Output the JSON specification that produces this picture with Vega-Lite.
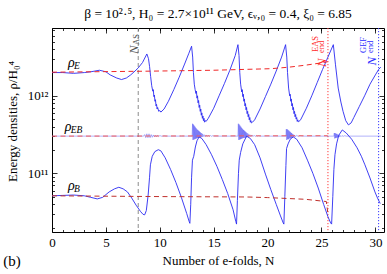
{
"$schema":"https://vega.github.io/schema/vega-lite/v6.json",
"width":332,"height":204,
"autosize":"none",
"padding":{"left":52,"top":28,"right":3,"bottom":42},
"title":{"text":"β = 10²·⁵,  H₀ = 2.7×10¹¹ GeV,  ϵᵥ,₀ = 0.4,  ξ₀ = 6.85","font":"Liberation Serif","fontSize":13.5,"fontWeight":"normal","color":"black","offset":7,"anchor":"middle"},
"datasets":{
"curves":[
{"N":0,"v":1.995e12,"s":"E","m":"GEF"},{"N":1,"v":1.995e12,"s":"E","m":"GEF"},{"N":2,"v":1.950e12,"s":"E","m":"GEF"},{"N":3,"v":1.995e12,"s":"E","m":"GEF"},{"N":3.6,"v":2.042e12,"s":"E","m":"GEF"},{"N":4.4,"v":2.138e12,"s":"E","m":"GEF"},{"N":5.0,"v":2.042e12,"s":"E","m":"GEF"},{"N":5.4,"v":1.862e12,"s":"E","m":"GEF"},{"N":6.0,"v":1.698e12,"s":"E","m":"GEF"},{"N":6.45,"v":1.622e12,"s":"E","m":"GEF"},{"N":6.9,"v":1.698e12,"s":"E","m":"GEF"},{"N":7.3,"v":1.862e12,"s":"E","m":"GEF"},{"N":7.7,"v":2.089e12,"s":"E","m":"GEF"},{"N":8.0,"v":2.291e12,"s":"E","m":"GEF"},{"N":8.4,"v":2.692e12,"s":"E","m":"GEF"},{"N":8.8,"v":3.467e12,"s":"E","m":"GEF"},{"N":8.95,"v":3.020e12,"s":"E","m":"GEF"},{"N":9.05,"v":2.399e12,"s":"E","m":"GEF"},{"N":9.15,"v":1.778e12,"s":"E","m":"GEF"},{"N":9.25,"v":1.349e12,"s":"E","m":"GEF"},{"N":9.35,"v":1.148e12,"s":"E","m":"GEF"},{"N":9.4,"v":1.202e12,"s":"E","m":"GEF"},{"N":9.45,"v":9.772e11,"s":"E","m":"GEF"},{"N":9.5,"v":1.023e12,"s":"E","m":"GEF"},{"N":9.55,"v":8.511e11,"s":"E","m":"GEF"},{"N":9.6,"v":8.913e11,"s":"E","m":"GEF"},{"N":9.65,"v":7.413e11,"s":"E","m":"GEF"},{"N":9.7,"v":7.762e11,"s":"E","m":"GEF"},{"N":9.75,"v":6.761e11,"s":"E","m":"GEF"},{"N":9.8,"v":7.079e11,"s":"E","m":"GEF"},{"N":9.9,"v":6.310e11,"s":"E","m":"GEF"},{"N":10.0,"v":6.457e11,"s":"E","m":"GEF"},{"N":10.1,"v":6.166e11,"s":"E","m":"GEF"},{"N":10.4,"v":6.761e11,"s":"E","m":"GEF"},{"N":10.8,"v":8.511e11,"s":"E","m":"GEF"},{"N":11.3,"v":1.202e12,"s":"E","m":"GEF"},{"N":11.8,"v":1.738e12,"s":"E","m":"GEF"},{"N":12.3,"v":2.570e12,"s":"E","m":"GEF"},{"N":12.7,"v":3.548e12,"s":"E","m":"GEF"},{"N":12.95,"v":4.365e12,"s":"E","m":"GEF"},{"N":13.05,"v":3.162e12,"s":"E","m":"GEF"},{"N":13.12,"v":1.995e12,"s":"E","m":"GEF"},{"N":13.2,"v":1.413e12,"s":"E","m":"GEF"},{"N":13.28,"v":1.202e12,"s":"E","m":"GEF"},{"N":13.35,"v":1.072e12,"s":"E","m":"GEF"},{"N":13.4,"v":1.148e12,"s":"E","m":"GEF"},{"N":13.45,"v":9.333e11,"s":"E","m":"GEF"},{"N":13.5,"v":1.000e12,"s":"E","m":"GEF"},{"N":13.55,"v":8.128e11,"s":"E","m":"GEF"},{"N":13.6,"v":8.710e11,"s":"E","m":"GEF"},{"N":13.65,"v":7.079e11,"s":"E","m":"GEF"},{"N":13.7,"v":7.586e11,"s":"E","m":"GEF"},{"N":13.75,"v":6.310e11,"s":"E","m":"GEF"},{"N":13.8,"v":6.761e11,"s":"E","m":"GEF"},{"N":13.85,"v":5.623e11,"s":"E","m":"GEF"},{"N":13.9,"v":6.026e11,"s":"E","m":"GEF"},{"N":13.95,"v":5.129e11,"s":"E","m":"GEF"},{"N":14.0,"v":5.495e11,"s":"E","m":"GEF"},{"N":14.05,"v":4.786e11,"s":"E","m":"GEF"},{"N":14.1,"v":5.129e11,"s":"E","m":"GEF"},{"N":14.15,"v":4.571e11,"s":"E","m":"GEF"},{"N":14.2,"v":4.786e11,"s":"E","m":"GEF"},{"N":14.3,"v":4.677e11,"s":"E","m":"GEF"},{"N":14.5,"v":5.129e11,"s":"E","m":"GEF"},{"N":15.0,"v":6.918e11,"s":"E","m":"GEF"},{"N":15.5,"v":1.000e12,"s":"E","m":"GEF"},{"N":16.0,"v":1.445e12,"s":"E","m":"GEF"},{"N":16.5,"v":2.138e12,"s":"E","m":"GEF"},{"N":17.0,"v":3.311e12,"s":"E","m":"GEF"},{"N":17.25,"v":4.571e12,"s":"E","m":"GEF"},{"N":17.35,"v":3.311e12,"s":"E","m":"GEF"},{"N":17.42,"v":1.995e12,"s":"E","m":"GEF"},{"N":17.5,"v":1.413e12,"s":"E","m":"GEF"},{"N":17.6,"v":1.122e12,"s":"E","m":"GEF"},{"N":17.65,"v":1.202e12,"s":"E","m":"GEF"},{"N":17.7,"v":9.772e11,"s":"E","m":"GEF"},{"N":17.75,"v":1.047e12,"s":"E","m":"GEF"},{"N":17.8,"v":8.511e11,"s":"E","m":"GEF"},{"N":17.85,"v":9.120e11,"s":"E","m":"GEF"},{"N":17.9,"v":7.413e11,"s":"E","m":"GEF"},{"N":17.95,"v":7.943e11,"s":"E","m":"GEF"},{"N":18.0,"v":6.607e11,"s":"E","m":"GEF"},{"N":18.05,"v":7.079e11,"s":"E","m":"GEF"},{"N":18.1,"v":5.888e11,"s":"E","m":"GEF"},{"N":18.15,"v":6.310e11,"s":"E","m":"GEF"},{"N":18.2,"v":5.370e11,"s":"E","m":"GEF"},{"N":18.25,"v":5.754e11,"s":"E","m":"GEF"},{"N":18.3,"v":4.898e11,"s":"E","m":"GEF"},{"N":18.35,"v":5.248e11,"s":"E","m":"GEF"},{"N":18.4,"v":4.571e11,"s":"E","m":"GEF"},{"N":18.45,"v":4.786e11,"s":"E","m":"GEF"},{"N":18.5,"v":4.467e11,"s":"E","m":"GEF"},{"N":18.6,"v":4.571e11,"s":"E","m":"GEF"},{"N":18.8,"v":4.898e11,"s":"E","m":"GEF"},{"N":19.3,"v":6.761e11,"s":"E","m":"GEF"},{"N":19.8,"v":9.772e11,"s":"E","m":"GEF"},{"N":20.3,"v":1.413e12,"s":"E","m":"GEF"},{"N":20.8,"v":2.089e12,"s":"E","m":"GEF"},{"N":21.3,"v":3.162e12,"s":"E","m":"GEF"},{"N":21.67,"v":4.571e12,"s":"E","m":"GEF"},{"N":21.78,"v":3.162e12,"s":"E","m":"GEF"},{"N":21.85,"v":1.995e12,"s":"E","m":"GEF"},{"N":21.95,"v":1.259e12,"s":"E","m":"GEF"},{"N":22.05,"v":1.000e12,"s":"E","m":"GEF"},{"N":22.1,"v":1.047e12,"s":"E","m":"GEF"},{"N":22.15,"v":8.511e11,"s":"E","m":"GEF"},{"N":22.2,"v":9.120e11,"s":"E","m":"GEF"},{"N":22.25,"v":7.413e11,"s":"E","m":"GEF"},{"N":22.3,"v":7.943e11,"s":"E","m":"GEF"},{"N":22.35,"v":6.607e11,"s":"E","m":"GEF"},{"N":22.4,"v":7.079e11,"s":"E","m":"GEF"},{"N":22.45,"v":5.888e11,"s":"E","m":"GEF"},{"N":22.5,"v":6.310e11,"s":"E","m":"GEF"},{"N":22.55,"v":5.370e11,"s":"E","m":"GEF"},{"N":22.6,"v":5.754e11,"s":"E","m":"GEF"},{"N":22.65,"v":5.012e11,"s":"E","m":"GEF"},{"N":22.7,"v":5.248e11,"s":"E","m":"GEF"},{"N":22.75,"v":4.677e11,"s":"E","m":"GEF"},{"N":22.8,"v":4.898e11,"s":"E","m":"GEF"},{"N":22.85,"v":4.624e11,"s":"E","m":"GEF"},{"N":23.0,"v":4.786e11,"s":"E","m":"GEF"},{"N":23.1,"v":5.012e11,"s":"E","m":"GEF"},{"N":23.6,"v":6.918e11,"s":"E","m":"GEF"},{"N":24.1,"v":1.000e12,"s":"E","m":"GEF"},{"N":24.6,"v":1.479e12,"s":"E","m":"GEF"},{"N":25.1,"v":2.188e12,"s":"E","m":"GEF"},{"N":25.6,"v":3.162e12,"s":"E","m":"GEF"},{"N":26.1,"v":4.571e12,"s":"E","m":"GEF"},{"N":26.3,"v":2.512e12,"s":"E","m":"GEF"},{"N":26.55,"v":1.259e12,"s":"E","m":"GEF"},{"N":26.8,"v":8.318e11,"s":"E","m":"GEF"},{"N":27.0,"v":6.310e11,"s":"E","m":"GEF"},{"N":27.25,"v":4.786e11,"s":"E","m":"GEF"},{"N":27.5,"v":4.217e11,"s":"E","m":"GEF"},{"N":27.75,"v":4.467e11,"s":"E","m":"GEF"},{"N":28.0,"v":5.248e11,"s":"E","m":"GEF"},{"N":28.5,"v":7.244e11,"s":"E","m":"GEF"},{"N":29.0,"v":1.000e12,"s":"E","m":"GEF"},{"N":29.5,"v":1.413e12,"s":"E","m":"GEF"},{"N":30.0,"v":1.862e12,"s":"E","m":"GEF"},{"N":30.3,"v":2.188e12,"s":"E","m":"GEF"},{"N":30.5,"v":2.344e12,"s":"E","m":"GEF"},
{"N":0,"v":3.020e11,"s":"EB","m":"GEF"},{"N":4,"v":3.020e11,"s":"EB","m":"GEF"},{"N":8.5,"v":3.020e11,"s":"EB","m":"GEF"},{"N":8.6,"v":3.162e11,"s":"EB","m":"GEF"},{"N":8.7,"v":2.884e11,"s":"EB","m":"GEF"},{"N":8.8,"v":3.236e11,"s":"EB","m":"GEF"},{"N":8.9,"v":2.884e11,"s":"EB","m":"GEF"},{"N":9.0,"v":3.236e11,"s":"EB","m":"GEF"},{"N":9.1,"v":2.884e11,"s":"EB","m":"GEF"},{"N":9.2,"v":3.162e11,"s":"EB","m":"GEF"},{"N":9.3,"v":2.917e11,"s":"EB","m":"GEF"},{"N":9.4,"v":3.126e11,"s":"EB","m":"GEF"},{"N":9.5,"v":2.951e11,"s":"EB","m":"GEF"},{"N":9.6,"v":3.090e11,"s":"EB","m":"GEF"},{"N":9.7,"v":2.951e11,"s":"EB","m":"GEF"},{"N":9.8,"v":3.090e11,"s":"EB","m":"GEF"},{"N":9.9,"v":2.985e11,"s":"EB","m":"GEF"},{"N":10.0,"v":3.069e11,"s":"EB","m":"GEF"},{"N":10.2,"v":3.006e11,"s":"EB","m":"GEF"},{"N":10.4,"v":3.048e11,"s":"EB","m":"GEF"},{"N":10.6,"v":3.020e11,"s":"EB","m":"GEF"},{"N":13.0,"v":3.020e11,"s":"EB","m":"GEF"},
{"N":13.04,"v":4.365e11,"s":"EB","m":"GEF"},{"N":13.08,"v":2.692e11,"s":"EB","m":"GEF"},{"N":13.12,"v":4.266e11,"s":"EB","m":"GEF"},{"N":13.16,"v":2.723e11,"s":"EB","m":"GEF"},{"N":13.2,"v":4.121e11,"s":"EB","m":"GEF"},{"N":13.24,"v":2.754e11,"s":"EB","m":"GEF"},{"N":13.28,"v":3.981e11,"s":"EB","m":"GEF"},{"N":13.32,"v":2.786e11,"s":"EB","m":"GEF"},{"N":13.36,"v":3.846e11,"s":"EB","m":"GEF"},{"N":13.4,"v":2.818e11,"s":"EB","m":"GEF"},{"N":13.44,"v":3.715e11,"s":"EB","m":"GEF"},{"N":13.48,"v":2.851e11,"s":"EB","m":"GEF"},{"N":13.52,"v":3.631e11,"s":"EB","m":"GEF"},{"N":13.56,"v":2.851e11,"s":"EB","m":"GEF"},{"N":13.6,"v":3.548e11,"s":"EB","m":"GEF"},{"N":13.64,"v":2.884e11,"s":"EB","m":"GEF"},{"N":13.68,"v":3.467e11,"s":"EB","m":"GEF"},{"N":13.72,"v":2.884e11,"s":"EB","m":"GEF"},{"N":13.76,"v":3.388e11,"s":"EB","m":"GEF"},{"N":13.8,"v":2.917e11,"s":"EB","m":"GEF"},{"N":13.85,"v":3.311e11,"s":"EB","m":"GEF"},{"N":13.9,"v":2.951e11,"s":"EB","m":"GEF"},{"N":13.95,"v":3.236e11,"s":"EB","m":"GEF"},{"N":14.0,"v":2.951e11,"s":"EB","m":"GEF"},{"N":14.1,"v":3.162e11,"s":"EB","m":"GEF"},{"N":14.2,"v":2.965e11,"s":"EB","m":"GEF"},{"N":14.3,"v":3.126e11,"s":"EB","m":"GEF"},{"N":14.4,"v":2.985e11,"s":"EB","m":"GEF"},{"N":14.5,"v":3.090e11,"s":"EB","m":"GEF"},{"N":14.6,"v":2.992e11,"s":"EB","m":"GEF"},{"N":14.7,"v":3.069e11,"s":"EB","m":"GEF"},{"N":14.8,"v":3.006e11,"s":"EB","m":"GEF"},{"N":14.9,"v":3.055e11,"s":"EB","m":"GEF"},{"N":15.05,"v":3.020e11,"s":"EB","m":"GEF"},{"N":17.25,"v":3.020e11,"s":"EB","m":"GEF"},
{"N":17.29,"v":4.365e11,"s":"EB","m":"GEF"},{"N":17.33,"v":2.692e11,"s":"EB","m":"GEF"},{"N":17.37,"v":4.266e11,"s":"EB","m":"GEF"},{"N":17.41,"v":2.723e11,"s":"EB","m":"GEF"},{"N":17.45,"v":4.121e11,"s":"EB","m":"GEF"},{"N":17.49,"v":2.754e11,"s":"EB","m":"GEF"},{"N":17.53,"v":3.981e11,"s":"EB","m":"GEF"},{"N":17.57,"v":2.786e11,"s":"EB","m":"GEF"},{"N":17.61,"v":3.846e11,"s":"EB","m":"GEF"},{"N":17.65,"v":2.818e11,"s":"EB","m":"GEF"},{"N":17.69,"v":3.715e11,"s":"EB","m":"GEF"},{"N":17.73,"v":2.851e11,"s":"EB","m":"GEF"},{"N":17.77,"v":3.631e11,"s":"EB","m":"GEF"},{"N":17.81,"v":2.851e11,"s":"EB","m":"GEF"},{"N":17.85,"v":3.548e11,"s":"EB","m":"GEF"},{"N":17.89,"v":2.884e11,"s":"EB","m":"GEF"},{"N":17.93,"v":3.467e11,"s":"EB","m":"GEF"},{"N":17.97,"v":2.884e11,"s":"EB","m":"GEF"},{"N":18.01,"v":3.388e11,"s":"EB","m":"GEF"},{"N":18.05,"v":2.917e11,"s":"EB","m":"GEF"},{"N":18.1,"v":3.311e11,"s":"EB","m":"GEF"},{"N":18.15,"v":2.951e11,"s":"EB","m":"GEF"},{"N":18.2,"v":3.236e11,"s":"EB","m":"GEF"},{"N":18.25,"v":2.951e11,"s":"EB","m":"GEF"},{"N":18.35,"v":3.162e11,"s":"EB","m":"GEF"},{"N":18.45,"v":2.965e11,"s":"EB","m":"GEF"},{"N":18.55,"v":3.126e11,"s":"EB","m":"GEF"},{"N":18.65,"v":2.985e11,"s":"EB","m":"GEF"},{"N":18.75,"v":3.090e11,"s":"EB","m":"GEF"},{"N":18.85,"v":2.992e11,"s":"EB","m":"GEF"},{"N":18.95,"v":3.069e11,"s":"EB","m":"GEF"},{"N":19.05,"v":3.006e11,"s":"EB","m":"GEF"},{"N":19.15,"v":3.055e11,"s":"EB","m":"GEF"},{"N":19.3,"v":3.020e11,"s":"EB","m":"GEF"},{"N":21.7,"v":3.020e11,"s":"EB","m":"GEF"},
{"N":21.74,"v":3.715e11,"s":"EB","m":"GEF"},{"N":21.78,"v":2.692e11,"s":"EB","m":"GEF"},{"N":21.82,"v":3.715e11,"s":"EB","m":"GEF"},{"N":21.86,"v":2.754e11,"s":"EB","m":"GEF"},{"N":21.9,"v":3.631e11,"s":"EB","m":"GEF"},{"N":21.94,"v":2.754e11,"s":"EB","m":"GEF"},{"N":21.98,"v":3.548e11,"s":"EB","m":"GEF"},{"N":22.02,"v":2.818e11,"s":"EB","m":"GEF"},{"N":22.06,"v":3.467e11,"s":"EB","m":"GEF"},{"N":22.1,"v":2.818e11,"s":"EB","m":"GEF"},{"N":22.14,"v":3.388e11,"s":"EB","m":"GEF"},{"N":22.18,"v":2.851e11,"s":"EB","m":"GEF"},{"N":22.22,"v":3.311e11,"s":"EB","m":"GEF"},{"N":22.26,"v":2.884e11,"s":"EB","m":"GEF"},{"N":22.3,"v":3.236e11,"s":"EB","m":"GEF"},{"N":22.35,"v":2.917e11,"s":"EB","m":"GEF"},{"N":22.4,"v":3.162e11,"s":"EB","m":"GEF"},{"N":22.45,"v":2.951e11,"s":"EB","m":"GEF"},{"N":22.5,"v":3.126e11,"s":"EB","m":"GEF"},{"N":22.6,"v":2.965e11,"s":"EB","m":"GEF"},{"N":22.7,"v":3.090e11,"s":"EB","m":"GEF"},{"N":22.85,"v":2.985e11,"s":"EB","m":"GEF"},{"N":23.0,"v":3.055e11,"s":"EB","m":"GEF"},{"N":23.2,"v":3.020e11,"s":"EB","m":"GEF"},{"N":26.15,"v":3.020e11,"s":"EB","m":"GEF"},
{"N":26.19,"v":3.311e11,"s":"EB","m":"GEF"},{"N":26.23,"v":2.818e11,"s":"EB","m":"GEF"},{"N":26.27,"v":3.311e11,"s":"EB","m":"GEF"},{"N":26.31,"v":2.851e11,"s":"EB","m":"GEF"},{"N":26.35,"v":3.236e11,"s":"EB","m":"GEF"},{"N":26.39,"v":2.884e11,"s":"EB","m":"GEF"},{"N":26.43,"v":3.236e11,"s":"EB","m":"GEF"},{"N":26.47,"v":2.884e11,"s":"EB","m":"GEF"},{"N":26.51,"v":3.162e11,"s":"EB","m":"GEF"},{"N":26.55,"v":2.917e11,"s":"EB","m":"GEF"},{"N":26.6,"v":3.141e11,"s":"EB","m":"GEF"},{"N":26.65,"v":2.951e11,"s":"EB","m":"GEF"},{"N":26.7,"v":3.112e11,"s":"EB","m":"GEF"},{"N":26.8,"v":2.972e11,"s":"EB","m":"GEF"},{"N":26.9,"v":3.076e11,"s":"EB","m":"GEF"},{"N":27.0,"v":2.992e11,"s":"EB","m":"GEF"},{"N":27.15,"v":3.055e11,"s":"EB","m":"GEF"},{"N":27.3,"v":3.020e11,"s":"EB","m":"GEF"},{"N":30.5,"v":3.020e11,"s":"EB","m":"GEF"},
{"N":0,"v":5.129e10,"s":"B","m":"GEF"},{"N":1,"v":5.19e10,"s":"B","m":"GEF"},{"N":2,"v":5.248e10,"s":"B","m":"GEF"},{"N":3,"v":5.129e10,"s":"B","m":"GEF"},{"N":3.6,"v":4.898e10,"s":"B","m":"GEF"},{"N":4.2,"v":4.677e10,"s":"B","m":"GEF"},{"N":4.7,"v":4.898e10,"s":"B","m":"GEF"},{"N":5.3,"v":5.754e10,"s":"B","m":"GEF"},{"N":5.8,"v":6.310e10,"s":"B","m":"GEF"},{"N":6.2,"v":6.607e10,"s":"B","m":"GEF"},{"N":6.6,"v":6.310e10,"s":"B","m":"GEF"},{"N":7.0,"v":5.754e10,"s":"B","m":"GEF"},{"N":7.4,"v":4.786e10,"s":"B","m":"GEF"},{"N":7.8,"v":3.890e10,"s":"B","m":"GEF"},{"N":8.2,"v":3.236e10,"s":"B","m":"GEF"},{"N":8.45,"v":2.951e10,"s":"B","m":"GEF"},{"N":8.6,"v":2.917e10,"s":"B","m":"GEF"},{"N":8.75,"v":3.311e10,"s":"B","m":"GEF"},{"N":8.92,"v":5.248e10,"s":"B","m":"GEF"},{"N":9.05,"v":8.913e10,"s":"B","m":"GEF"},{"N":9.13,"v":1.288e11,"s":"B","m":"GEF"},{"N":9.3,"v":1.660e11,"s":"B","m":"GEF"},{"N":9.54,"v":1.905e11,"s":"B","m":"GEF"},{"N":9.86,"v":2.018e11,"s":"B","m":"GEF"},{"N":10.1,"v":1.950e11,"s":"B","m":"GEF"},{"N":10.5,"v":1.585e11,"s":"B","m":"GEF"},{"N":11.0,"v":1.122e11,"s":"B","m":"GEF"},{"N":11.5,"v":7.586e10,"s":"B","m":"GEF"},{"N":12.0,"v":4.898e10,"s":"B","m":"GEF"},{"N":12.5,"v":3.020e10,"s":"B","m":"GEF"},{"N":12.72,"v":2.399e10,"s":"B","m":"GEF"},{"N":12.79,"v":2.265e10,"s":"B","m":"GEF"},{"N":12.87,"v":3.981e10,"s":"B","m":"GEF"},{"N":12.95,"v":8.913e10,"s":"B","m":"GEF"},{"N":13.03,"v":1.479e11,"s":"B","m":"GEF"},{"N":13.15,"v":1.660e11,"s":"B","m":"GEF"},{"N":13.3,"v":2.188e11,"s":"B","m":"GEF"},{"N":13.45,"v":2.630e11,"s":"B","m":"GEF"},{"N":13.65,"v":2.951e11,"s":"B","m":"GEF"},{"N":13.9,"v":2.818e11,"s":"B","m":"GEF"},{"N":14.3,"v":2.344e11,"s":"B","m":"GEF"},{"N":14.8,"v":1.738e11,"s":"B","m":"GEF"},{"N":15.3,"v":1.230e11,"s":"B","m":"GEF"},{"N":15.8,"v":8.318e10,"s":"B","m":"GEF"},{"N":16.3,"v":5.495e10,"s":"B","m":"GEF"},{"N":16.8,"v":3.388e10,"s":"B","m":"GEF"},{"N":17.05,"v":2.399e10,"s":"B","m":"GEF"},{"N":17.12,"v":2.213e10,"s":"B","m":"GEF"},{"N":17.2,"v":4.467e10,"s":"B","m":"GEF"},{"N":17.3,"v":1.000e11,"s":"B","m":"GEF"},{"N":17.37,"v":1.479e11,"s":"B","m":"GEF"},{"N":17.5,"v":1.862e11,"s":"B","m":"GEF"},{"N":17.7,"v":2.399e11,"s":"B","m":"GEF"},{"N":18.05,"v":3.020e11,"s":"B","m":"GEF"},{"N":18.4,"v":2.818e11,"s":"B","m":"GEF"},{"N":18.8,"v":2.344e11,"s":"B","m":"GEF"},{"N":19.3,"v":1.585e11,"s":"B","m":"GEF"},{"N":19.8,"v":9.772e10,"s":"B","m":"GEF"},{"N":20.3,"v":6.166e10,"s":"B","m":"GEF"},{"N":20.8,"v":3.981e10,"s":"B","m":"GEF"},{"N":21.2,"v":2.818e10,"s":"B","m":"GEF"},{"N":21.45,"v":2.291e10,"s":"B","m":"GEF"},{"N":21.51,"v":2.213e10,"s":"B","m":"GEF"},{"N":21.6,"v":5.012e10,"s":"B","m":"GEF"},{"N":21.7,"v":1.259e11,"s":"B","m":"GEF"},{"N":21.76,"v":2.089e11,"s":"B","m":"GEF"},{"N":21.9,"v":2.399e11,"s":"B","m":"GEF"},{"N":22.1,"v":2.754e11,"s":"B","m":"GEF"},{"N":22.38,"v":2.951e11,"s":"B","m":"GEF"},{"N":22.7,"v":2.754e11,"s":"B","m":"GEF"},{"N":23.2,"v":2.138e11,"s":"B","m":"GEF"},{"N":23.7,"v":1.479e11,"s":"B","m":"GEF"},{"N":24.2,"v":1.000e11,"s":"B","m":"GEF"},{"N":24.7,"v":6.457e10,"s":"B","m":"GEF"},{"N":25.2,"v":3.981e10,"s":"B","m":"GEF"},{"N":25.6,"v":2.754e10,"s":"B","m":"GEF"},{"N":25.85,"v":2.291e10,"s":"B","m":"GEF"},{"N":25.94,"v":2.213e10,"s":"B","m":"GEF"},{"N":26.05,"v":5.012e10,"s":"B","m":"GEF"},{"N":26.15,"v":1.122e11,"s":"B","m":"GEF"},{"N":26.25,"v":1.738e11,"s":"B","m":"GEF"},{"N":26.4,"v":2.399e11,"s":"B","m":"GEF"},{"N":26.6,"v":3.090e11,"s":"B","m":"GEF"},{"N":26.93,"v":3.631e11,"s":"B","m":"GEF"},{"N":27.3,"v":3.311e11,"s":"B","m":"GEF"},{"N":27.8,"v":2.754e11,"s":"B","m":"GEF"},{"N":28.3,"v":2.138e11,"s":"B","m":"GEF"},{"N":28.7,"v":1.660e11,"s":"B","m":"GEF"},{"N":29.03,"v":1.288e11,"s":"B","m":"GEF"},{"N":29.5,"v":8.710e10,"s":"B","m":"GEF"},{"N":29.96,"v":5.754e10,"s":"B","m":"GEF"},{"N":30.2,"v":4.786e10,"s":"B","m":"GEF"},{"N":30.45,"v":4.074e10,"s":"B","m":"GEF"},
{"N":0,"v":2.018e12,"s":"E","m":"EAS"},{"N":9,"v":2.080e12,"s":"E","m":"EAS"},{"N":15,"v":2.138e12,"s":"E","m":"EAS"},{"N":20.3,"v":2.239e12,"s":"E","m":"EAS"},{"N":22,"v":2.344e12,"s":"E","m":"EAS"},{"N":23.5,"v":2.483e12,"s":"E","m":"EAS"},{"N":25,"v":2.661e12,"s":"E","m":"EAS"},{"N":25.58,"v":2.754e12,"s":"E","m":"EAS"},
{"N":0,"v":3.020e11,"s":"EB","m":"EAS"},{"N":12,"v":3.034e11,"s":"EB","m":"EAS"},{"N":25.58,"v":3.055e11,"s":"EB","m":"EAS"},
{"N":0,"v":5.129e10,"s":"B","m":"EAS"},{"N":10,"v":5.012e10,"s":"B","m":"EAS"},{"N":18,"v":4.955e10,"s":"B","m":"EAS"},{"N":20,"v":4.864e10,"s":"B","m":"EAS"},{"N":23.5,"v":4.624e10,"s":"B","m":"EAS"},{"N":25.45,"v":4.325e10,"s":"B","m":"EAS"},{"N":25.58,"v":3.162e10,"s":"B","m":"EAS"}
],
"rules":[{"N":8,"k":"AS"},{"N":25.6,"k":"EAS"},{"N":30.3,"k":"GEF"}],
"rho":[{"N":1.49,"v":2.36e12,"t":"ρ"},{"N":1.18,"v":3.52e11,"t":"ρ"},{"N":1.49,"v":6.11e10,"t":"ρ"}],
"sub":[{"N":2.05,"v":2.21e12,"t":"E"},{"N":1.74,"v":3.27e11,"t":"EB"},{"N":2.05,"v":5.69e10,"t":"B"}],
"rotN":[{"N":7.59,"v":3.47e12,"t":"N","k":"AS"},{"N":25.01,"v":2.36e12,"t":"N","k":"EAS"},{"N":29.66,"v":2.47e12,"t":"N","k":"GEF"}],
"rotS":[{"N":7.77,"v":4.53e12,"t":"AS","k":"AS"},{"N":24.39,"v":3.68e12,"t":"EAS","k":"EAS"},{"N":25.0,"v":3.57e12,"t":"end","k":"EAS"},{"N":28.88,"v":3.57e12,"t":"GEF","k":"GEF"},{"N":29.5,"v":3.57e12,"t":"end","k":"GEF"}],
"tag":[{"N":-3.7,"v":7.41e9,"t":"(b)"}]
},
"layer":[
{"data":{"name":"rules"},
 "mark":{"type":"rule","strokeWidth":1},
 "encoding":{
  "x":{"field":"N","type":"quantitative","scale":{"domain":[0,30.8],"nice":false,"zero":false},"axis":null},
  "color":{"field":"k","type":"nominal","scale":{"domain":["AS","EAS","GEF"],"range":["#8c8c8c","#ff3a3a","#3a3aff"]},"legend":null},
  "strokeDash":{"field":"k","type":"nominal","scale":{"domain":["AS","EAS","GEF"],"range":[[4,3],[1.2,1.8],[1.2,1.8]]},"legend":null}
 }},
{"data":{"name":"curves"},"transform":[{"filter":"datum.m=='GEF' && datum.s=='EB'"}],
 "mark":{"type":"line","color":"#2a2af2","strokeWidth":0.6,"opacity":0.6,"clip":true},
 "encoding":{
  "x":{"field":"N","type":"quantitative","scale":{"domain":[0,30.8],"nice":false,"zero":false},"axis":null},
  "y":{"field":"v","type":"quantitative","scale":{"type":"log","domain":[1.75e10,7.5e12],"nice":false},"axis":null}
 }},
{"data":{"name":"curves"},"transform":[{"filter":"datum.m=='GEF' && datum.s!='EB'"}],
 "mark":{"type":"line","color":"#2a2af2","strokeWidth":0.9,"clip":true},
 "encoding":{
  "x":{"field":"N","type":"quantitative","scale":{"domain":[0,30.8],"nice":false,"zero":false},
       "axis":{"orient":"bottom","values":[0,5,10,15,20,25,30],"tickSize":-5,"labelPadding":9,"title":"Number of e-folds, N","titlePadding":5}},
  "y":{"field":"v","type":"quantitative","scale":{"type":"log","domain":[1.75e10,7.5e12],"nice":false},
       "axis":{"orient":"left","values":[1e11,1e12],"tickSize":-5,"labelPadding":9,"labelExpr":"datum.value > 5e11 ? '10¹²' : '10¹¹'","title":"Energy densities, ρ/H₀⁴","titlePadding":8,"titleY":93}},
  "detail":{"field":"s","type":"nominal"}
 }},
{"data":{"name":"curves"},"transform":[{"filter":"datum.m=='EAS'"}],
 "mark":{"type":"line","strokeWidth":1,"strokeDash":[5,3.5],"clip":true},
 "encoding":{
  "x":{"field":"N","type":"quantitative","scale":{"domain":[0,30.8],"nice":false,"zero":false},
       "axis":{"orient":"bottom","values":[0,1,2,3,4,5,6,7,8,9,10,11,12,13,14,15,16,17,18,19,20,21,22,23,24,25,26,27,28,29,30],"tickSize":-2.5,"labels":false,"title":null}},
  "y":{"field":"v","type":"quantitative","scale":{"type":"log","domain":[1.75e10,7.5e12],"nice":false},
       "axis":{"orient":"left","values":[2e10,3e10,4e10,5e10,6e10,7e10,8e10,9e10,2e11,3e11,4e11,5e11,6e11,7e11,8e11,9e11,2e12,3e12,4e12,5e12,6e12,7e12],"tickSize":-2.5,"labels":false,"title":null}},
  "color":{"field":"s","type":"nominal","scale":{"domain":["E","EB","B"],"range":["#f02828","#f25a5a","#c0302c"]},"legend":null}
 }},
{"data":{"name":"rho"},
 "mark":{"type":"text","font":"Liberation Serif","fontStyle":"italic","fontSize":14,"align":"left","baseline":"alphabetic","color":"black"},
 "encoding":{
  "x":{"field":"N","type":"quantitative","scale":{"domain":[0,30.8],"nice":false,"zero":false},
       "axis":{"orient":"top","values":[0,5,10,15,20,25,30],"tickSize":-5,"labels":false,"title":null}},
  "y":{"field":"v","type":"quantitative","scale":{"type":"log","domain":[1.75e10,7.5e12],"nice":false},
       "axis":{"orient":"right","values":[1e11,1e12],"tickSize":-5,"labels":false,"title":null}},
  "text":{"field":"t"}
 }},
{"data":{"name":"sub"},
 "mark":{"type":"text","font":"Liberation Serif","fontStyle":"italic","fontSize":9.5,"align":"left","baseline":"alphabetic","color":"black"},
 "encoding":{
  "x":{"field":"N","type":"quantitative","scale":{"domain":[0,30.8],"nice":false,"zero":false},
       "axis":{"orient":"top","values":[0,1,2,3,4,5,6,7,8,9,10,11,12,13,14,15,16,17,18,19,20,21,22,23,24,25,26,27,28,29,30],"tickSize":-2.5,"labels":false,"title":null}},
  "y":{"field":"v","type":"quantitative","scale":{"type":"log","domain":[1.75e10,7.5e12],"nice":false},
       "axis":{"orient":"right","values":[2e10,3e10,4e10,5e10,6e10,7e10,8e10,9e10,2e11,3e11,4e11,5e11,6e11,7e11,8e11,9e11,2e12,3e12,4e12,5e12,6e12,7e12],"tickSize":-2.5,"labels":false,"title":null}},
  "text":{"field":"t"}
 }},
{"data":{"name":"rotN"},
 "mark":{"type":"text","font":"Liberation Serif","fontStyle":"italic","fontSize":13,"align":"left","baseline":"middle","angle":270},
 "encoding":{
  "x":{"field":"N","type":"quantitative","scale":{"domain":[0,30.8],"nice":false,"zero":false},"axis":null},
  "y":{"field":"v","type":"quantitative","scale":{"type":"log","domain":[1.75e10,7.5e12],"nice":false},"axis":null},
  "text":{"field":"t"},
  "color":{"field":"k","type":"nominal","scale":{"domain":["AS","EAS","GEF"],"range":["#555555","#ff2a2a","#2a2aff"]},"legend":null}
 }},
{"data":{"name":"rotS"},
 "mark":{"type":"text","font":"Liberation Serif","fontSize":8.5,"align":"left","baseline":"middle","angle":270},
 "encoding":{
  "x":{"field":"N","type":"quantitative","scale":{"domain":[0,30.8],"nice":false,"zero":false},"axis":null},
  "y":{"field":"v","type":"quantitative","scale":{"type":"log","domain":[1.75e10,7.5e12],"nice":false},"axis":null},
  "text":{"field":"t"},
  "color":{"field":"k","type":"nominal","scale":{"domain":["AS","EAS","GEF"],"range":["#555555","#ff2a2a","#2a2aff"]},"legend":null}
 }},
{"data":{"name":"tag"},
 "mark":{"type":"text","font":"Liberation Serif","fontSize":15,"align":"center","baseline":"middle","color":"black"},
 "encoding":{
  "x":{"field":"N","type":"quantitative","scale":{"domain":[0,30.8],"nice":false,"zero":false},"axis":null},
  "y":{"field":"v","type":"quantitative","scale":{"type":"log","domain":[1.75e10,7.5e12],"nice":false},"axis":null},
  "text":{"field":"t"}
 }}
],
"resolve":{"axis":{"x":"independent","y":"independent"},"scale":{"color":"independent","strokeDash":"independent"}},
"config":{
 "background":"white",
 "view":{"stroke":"black","strokeWidth":1},
 "axis":{"domain":false,"grid":false,"tickColor":"black","tickWidth":0.8,"labelFont":"Liberation Serif","labelFontSize":13,"labelColor":"black","titleFont":"Liberation Serif","titleFontSize":13,"titleFontWeight":"normal","titleColor":"black","labelFlush":false,"labelOverlap":false,"labelBound":false}
}
}
